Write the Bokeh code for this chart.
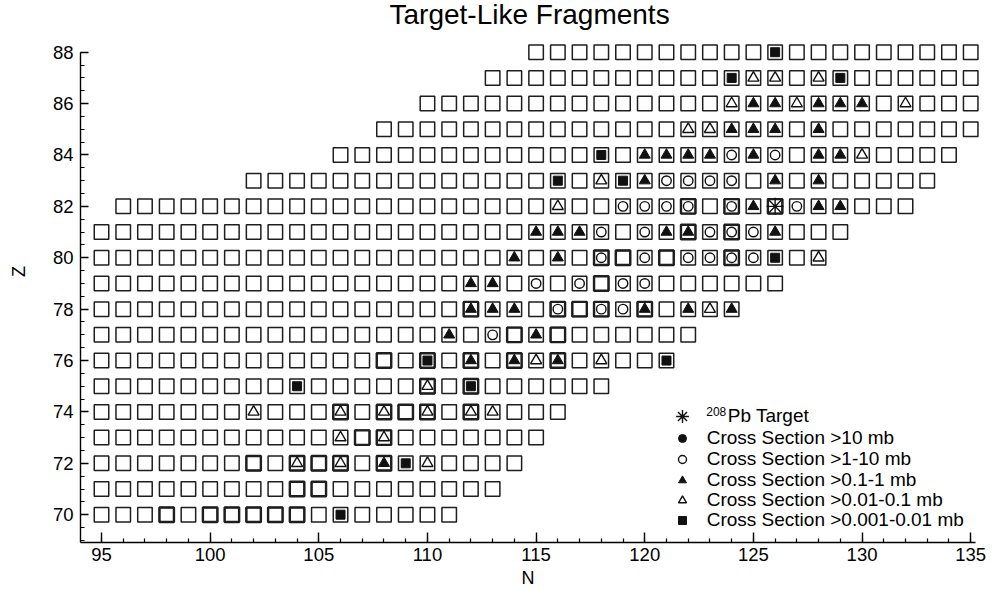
import math
from bokeh.plotting import figure
from bokeh.models import SingleIntervalTicker, Legend, LegendItem, Label
from bokeh.embed import file_html
from bokeh.resources import INLINE

# ---------------- data ----------------
Z_ROWS = list(range(70, 89))
N_FIRST = [95, 95, 95, 95, 95, 95, 95, 95, 95, 95, 95, 95, 96, 102, 106, 108, 110, 113, 115]
N_LAST = [111, 113, 114, 115, 116, 118, 121, 122, 124, 126, 128, 129, 132, 133, 134, 135, 135, 135, 135]

# cells drawn with a doubled (heavier) outline
HEAVY_N = [98, 100, 101, 102, 103, 104, 104, 105, 102, 104, 105, 106, 108, 107, 108,
           106, 108, 109, 110, 112, 110, 112, 108, 110, 112, 114, 116, 114, 116,
           112, 116, 117, 118, 120, 118, 118, 119, 121, 124, 122, 124, 122, 124, 126]
HEAVY_Z = [70, 70, 70, 70, 70, 70, 71, 71, 72, 72, 72, 72, 72, 73, 73,
           74, 74, 74, 74, 74, 75, 75, 76, 76, 76, 76, 76, 77, 77,
           78, 78, 78, 78, 78, 79, 80, 80, 80, 80, 81, 81, 82, 82, 82]

TARGET_N = [126]
TARGET_Z = [82]

# no fragment reaches >10 mb (legend key only)
GT10_N = []
GT10_Z = []

C1_10_N = [124, 126, 121, 122, 123, 124, 119, 120, 121, 122, 124, 127,
           118, 120, 123, 124, 125, 118, 120, 122, 123, 124, 125,
           115, 117, 119, 120, 116, 118, 119, 113]
C1_10_Z = [84, 84, 83, 83, 83, 83, 82, 82, 82, 82, 82, 82,
           81, 81, 81, 81, 81, 80, 80, 80, 80, 80, 80,
           79, 79, 79, 79, 78, 78, 78, 77]

C01_1_N = [125, 126, 128, 129, 130, 124, 125, 126, 128, 120, 121, 122, 123, 125, 128, 129,
           120, 126, 128, 125, 128, 129, 115, 116, 117, 121, 122, 126, 114, 116,
           112, 113, 112, 113, 114, 120, 122, 124, 111, 115, 112, 114, 116, 108]
C01_1_Z = [86, 86, 86, 86, 86, 85, 85, 85, 85, 84, 84, 84, 84, 84, 84, 84,
           83, 83, 83, 82, 82, 82, 81, 81, 81, 81, 81, 81, 80, 80,
           79, 79, 78, 78, 78, 78, 78, 78, 77, 77, 76, 76, 76, 72]

C001_01_N = [125, 126, 128, 124, 127, 132, 122, 123, 130, 118, 116, 128, 123, 115, 118, 110,
             102, 106, 108, 110, 112, 113, 106, 108, 104, 106, 110]
C001_01_Z = [87, 87, 87, 86, 86, 86, 85, 85, 84, 83, 82, 80, 78, 76, 76, 75,
             74, 74, 74, 74, 74, 74, 73, 73, 72, 72, 72]

C0001_001_N = [126, 124, 129, 118, 116, 119, 126, 110, 121, 104, 112, 109, 106]
C0001_001_Z = [88, 87, 87, 84, 83, 83, 80, 76, 76, 75, 75, 72, 70]

TARGET_MASS = "208"
TARGET_LABEL = "\u00a0\u00a0\u00a0\u00a0Pb Target"
XS_LABELS = ["Cross Section >10 mb", "Cross Section >1-10 mb", "Cross Section >0.1-1 mb",
             "Cross Section >0.01-0.1 mb", "Cross Section >0.001-0.01 mb"]

# build the grid of nuclides from the row ranges
grid_n, grid_z = [], []
for z, n0, n1 in zip(Z_ROWS, N_FIRST, N_LAST):
    for n in range(n0, n1 + 1):
        grid_n.append(n)
        grid_z.append(z)

FONT = "Liberation Sans"
INK = "#111111"
W, H = 993, 590

# axis frame (data extent of the drawn axes)
X_AX0, X_AX1 = 94.034, 135.22
Y_AX0, Y_AX1 = 68.93, 88.0

p = figure(width=W, height=H, x_range=(90.352, 136.049), y_range=(67.05, 90.0125),
           output_backend="svg", toolbar_location=None, title=None,
           min_border_left=0, min_border_right=0, min_border_top=0, min_border_bottom=0)
p.grid.visible = False
p.outline_line_color = None
p.background_fill_color = "white"

# squares
p.scatter(grid_n, grid_z, marker="square", size=14.5, fill_color=None,
          line_color="#1e1e1e", line_width=1.5)
p.scatter(HEAVY_N, HEAVY_Z, marker="square", size=14.5, fill_color=None,
          line_color="#1e1e1e", line_width=2.4)

# empty series still needs a key in the legend: use a non-drawn NaN proxy point
gt10_x = GT10_N if GT10_N else [float("nan")]
gt10_y = GT10_Z if GT10_Z else [float("nan")]
r_gt10 = p.scatter(gt10_x, gt10_y, marker="circle", size=9, fill_color=INK, line_color=INK)
r_c1 = p.scatter(C1_10_N, C1_10_Z, marker="circle", size=9.5, fill_color=None,
                 line_color=INK, line_width=1.4)
r_c01 = p.scatter(C01_1_N, C01_1_Z, marker="triangle", size=11, fill_color=INK,
                  line_color=INK, line_width=1.0)
r_c001 = p.scatter(C001_01_N, C001_01_Z, marker="triangle", size=11, fill_color=None,
                   line_color=INK, line_width=1.4)
r_c0001 = p.scatter(C0001_001_N, C0001_001_Z, marker="square", size=9, fill_color=INK,
                    line_color=INK, line_width=1.0)
r_target = p.scatter(TARGET_N, TARGET_Z, marker="asterisk", size=17, line_color=INK,
                     line_width=1.4)

# axes
xa = p.xaxis[0]
ya = p.yaxis[0]
xa.fixed_location = Y_AX0
ya.fixed_location = X_AX0
xa.bounds = (X_AX0, X_AX1)
ya.bounds = (Y_AX0, Y_AX1)
xa.ticker = SingleIntervalTicker(interval=5, num_minor_ticks=5)
ya.ticker = SingleIntervalTicker(interval=2, num_minor_ticks=4)
for ax in (xa, ya):
    ax.axis_line_color = "black"
    ax.axis_line_width = 1.4
    ax.major_tick_line_color = "black"
    ax.major_tick_line_width = 1.4
    ax.minor_tick_line_color = "black"
    ax.minor_tick_line_width = 1.2
    ax.major_tick_out = 0
    ax.minor_tick_out = 0
    ax.minor_tick_in = 4
    ax.major_label_text_font = FONT
    ax.major_label_text_font_size = "18.5px"
    ax.major_label_text_color = "black"
xa.major_tick_in = 10
ya.major_tick_in = 8
xa.major_label_standoff = 6
ya.major_label_standoff = 7
xa.axis_label = "N"
xa.axis_label_text_font = FONT
xa.axis_label_text_font_size = "18px"
xa.axis_label_text_font_style = "normal"
xa.axis_label_text_color = "black"
xa.axis_label_standoff = 3

p.add_layout(Label(x=91.226, y=79.467, text="Z", angle=math.pi / 2, text_align="center",
                   text_baseline="middle", text_font=FONT, text_font_size="18px",
                   text_color="black"))
p.add_layout(Label(x=114.70, y=89.483, text="Target-Like Fragments", text_align="center",
                   text_baseline="alphabetic", text_font=FONT, text_font_size="28px",
                   text_color="black"))
p.add_layout(Label(x=122.83, y=74.017, text=TARGET_MASS, text_align="left",
                   text_baseline="alphabetic", text_font=FONT, text_font_size="12px",
                   text_color="black"))


def make_legend(label, renderer, x, y, gw, gh, standoff):
    lg = Legend(items=[LegendItem(label=label, renderers=[renderer])], location=(x, y))
    lg.border_line_color = None
    lg.background_fill_alpha = 0
    lg.padding = 0
    lg.margin = 0
    lg.spacing = 0
    lg.glyph_width = gw
    lg.glyph_height = gh
    lg.label_height = 20
    lg.label_standoff = standoff
    lg.label_text_font = FONT
    lg.label_text_font_size = "19px"
    lg.label_text_color = "black"
    p.add_layout(lg)


# legend rows (screen px from the bottom of the canvas)
make_legend(TARGET_LABEL, r_target, 665.7, 158, 32, 32, 9)
row_bottoms = [141.5, 120.5, 99.5, 79.5, 59.5]
for lab, rend, yb in zip(XS_LABELS, [r_gt10, r_c1, r_c01, r_c001, r_c0001], row_bottoms):
    make_legend(lab, rend, 670.7, yb, 22, 20, 14)

open("out.html", "w").write(file_html(p, INLINE))
